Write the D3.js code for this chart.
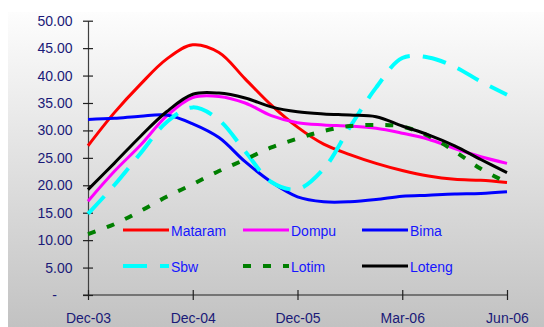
<!DOCTYPE html>
<html>
<head>
<meta charset="utf-8">
<script src="https://cdn.jsdelivr.net/npm/d3@7"></script>
<style>
  html, body { margin: 0; padding: 0; background: #ffffff; }
  svg { display: block; font-family: "Liberation Sans", Arial, sans-serif; }
</style>
</head>
<body>
<svg id="chart" width="544" height="327"></svg>
<script>
// ---- data (17 evenly spaced categories; labels shown every 4th) ----
const categories = d3.range(17);
const tickPositions = [0, 4, 8, 12, 16];
const tickLabels = ["Dec-03", "Dec-04", "Dec-05", "Mar-06", "Jun-06"];
const yTicks = [0, 5, 10, 15, 20, 25, 30, 35, 40, 45, 50];

const seriesNames = ["Mataram", "Dompu", "Bima", "Sbw", "Lotim", "Loteng"];
const mataram = [27.2, 33.2, 38.4, 43.0, 45.6, 44.2, 39.4, 34.6, 30.6, 27.5, 25.6, 24.0, 22.7, 21.7, 21.1, 20.9, 20.5];
const dompu   = [17.1, 22.5, 27.3, 32.6, 36.0, 36.2, 35.0, 32.7, 31.4, 31.0, 30.8, 30.4, 29.5, 28.4, 26.7, 25.2, 24.0];
const bima    = [32.0, 32.2, 32.6, 32.8, 31.2, 28.7, 24.3, 20.6, 17.9, 17.0, 17.0, 17.4, 18.0, 18.2, 18.4, 18.5, 18.8];
const sbw     = [14.8, 20.0, 25.8, 31.5, 34.2, 31.9, 26.2, 20.6, 19.3, 23.0, 30.6, 37.8, 43.2, 43.3, 41.6, 38.9, 36.5];
const lotim   = [11.1, 12.9, 15.3, 17.9, 20.2, 22.6, 24.7, 26.9, 28.5, 29.9, 30.8, 31.0, 30.7, 29.0, 26.2, 23.0, 20.5];
const loteng  = [19.2, 24.0, 28.9, 33.4, 36.6, 36.8, 35.9, 34.3, 33.4, 33.0, 32.8, 32.5, 30.8, 29.2, 27.2, 24.7, 22.3];

const seriesValues = [mataram, dompu, bima, sbw, lotim, loteng];
const seriesColors = ["#ff0000", "#ff00ff", "#0000ff", "#00ffff", "#007f00", "#000000"];
const seriesDash   = [null, null, null, "24 13", "8 12", null];
const seriesWidth  = [3, 3, 3, 4, 4, 3];

// ---- drawing ----
const svg = d3.select("#chart");
const defs = svg.append("defs");
const grad = defs.append("linearGradient").attr("id", "bg").attr("x1", 0).attr("y1", 0).attr("x2", 0).attr("y2", 1);
grad.append("stop").attr("offset", "0%").attr("stop-color", "#fdfdfd");
grad.append("stop").attr("offset", "100%").attr("stop-color", "#c2c2c2");
svg.append("rect").attr("x", 8).attr("y", 12).attr("width", 536).attr("height", 315).attr("fill", "url(#bg)");

const x = d3.scalePoint().domain(categories).range([88, 507]);
const y = d3.scaleLinear().domain([0, 50]).range([295, 20.7]);

// Y axis
const yAxis = svg.append("g").attr("transform", "translate(88,0)")
  .call(d3.axisLeft(y).tickValues(yTicks).tickSize(0).tickPadding(15)
    .tickFormat(d => d === 0 ? "-" : d3.format(".2f")(d)));
yAxis.select(".domain").attr("stroke", "#404040").attr("stroke-width", 1.2);
yAxis.selectAll(".tick line").attr("x1", -5).attr("x2", 5).attr("stroke", "#202020").attr("stroke-width", 1.2);
yAxis.selectAll(".tick text").attr("font-size", 14).attr("fill", "#1a1a78")
  .attr("font-family", "'Liberation Sans', Arial, sans-serif")
  .attr("x", d => d === 0 ? -31 : -15.5);

// X axis
const xAxis = svg.append("g").attr("transform", "translate(0,295)")
  .call(d3.axisBottom(x).tickValues(tickPositions).tickSize(0)
    .tickFormat((d, i) => tickLabels[i]));
xAxis.select(".domain").attr("d", "M83,0H507").attr("stroke", "#202020").attr("stroke-width", 1.2);
xAxis.selectAll(".tick line").attr("y1", -5).attr("y2", 5).attr("stroke", "#202020").attr("stroke-width", 1.2);
xAxis.selectAll(".tick text").attr("font-size", 14).attr("fill", "#1a1a78")
  .attr("font-family", "'Liberation Sans', Arial, sans-serif")
  .attr("y", 28).attr("dy", 0);

// Lines
const line = d3.line().x((d, i) => x(categories[i])).y(d => y(d)).curve(d3.curveCatmullRom.alpha(0.5));
seriesValues.forEach((vals, k) => {
  svg.append("path").datum(vals)
    .attr("d", line)
    .attr("fill", "none")
    .attr("stroke", seriesColors[k])
    .attr("stroke-width", seriesWidth[k])
    .attr("stroke-dasharray", seriesDash[k])
    .attr("stroke-linejoin", "round");
});

// Legend
const legX = [123, 243, 362];
const legY = [230, 266];
seriesNames.forEach((name, k) => {
  const col = k % 3, row = Math.floor(k / 3);
  const g = svg.append("g").attr("transform", `translate(${legX[col]},${legY[row]})`);
  g.append("line").attr("x1", 0).attr("x2", 46).attr("y1", 0).attr("y2", 0)
    .attr("stroke", seriesColors[k]).attr("stroke-width", seriesWidth[k])
    .attr("stroke-dasharray", seriesDash[k]);
  g.append("text").attr("x", 48).attr("y", 5.5).attr("font-size", 14)
    .attr("fill", "#1616ff").text(name);
});
</script>
</body>
</html>
